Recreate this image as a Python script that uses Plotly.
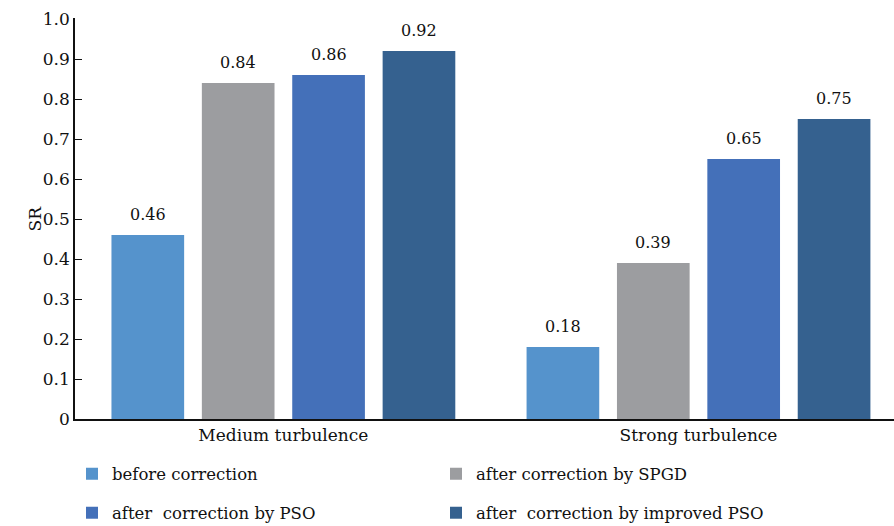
import plotly.graph_objects as go

# SR values per turbulence condition
categories = ["Medium turbulence", "Strong turbulence"]
series_names = [
    "before correction",
    "after correction by SPGD",
    "after  correction by PSO",
    "after  correction by improved PSO",
]
before_correction = [0.46, 0.18]
after_spgd = [0.84, 0.39]
after_pso = [0.86, 0.65]
after_improved_pso = [0.92, 0.75]
y_ticks = [0, 0.1, 0.2, 0.3, 0.4, 0.5, 0.6, 0.7, 0.8, 0.9, 1.0]
y_tick_labels = ["0", "0.1", "0.2", "0.3", "0.4", "0.5", "0.6", "0.7", "0.8", "0.9", "1.0"]

series_values = [before_correction, after_spgd, after_pso, after_improved_pso]
colors = ["#5593cc", "#9c9da0", "#4470b9", "#35618f"]
legend_ids = ["legend", "legend", "legend2", "legend2"]

FONT = "DejaVu Serif"
x_pos = list(range(len(categories)))
bargap = 0.129
slot = (1 - bargap) / len(series_values)

fig = go.Figure()
for i, (name, vals, col, lg) in enumerate(zip(series_names, series_values, colors, legend_ids)):
    fig.add_trace(go.Bar(
        x=x_pos, y=vals, name=name, legend=lg,
        marker=dict(color=col, line=dict(width=0)),
    ))
    # value labels above each bar
    for xc, v in zip(x_pos, vals):
        fig.add_annotation(
            x=xc + (i - (len(series_values) - 1) / 2) * slot, y=v,
            text=f"{v:.2f}", showarrow=False, yanchor="bottom", yshift=9,
            font=dict(family=FONT, size=16, color="#111111"),
        )

# y-axis title
fig.add_annotation(
    xref="paper", yref="paper", x=-29 / 819, y=0.5, text="SR",
    textangle=-90, showarrow=False, xanchor="right", yanchor="middle",
    font=dict(family=FONT, size=17, color="#111111"),
)

fig.update_layout(
    width=894, height=526,
    margin=dict(l=75, r=0, t=18, b=107),
    paper_bgcolor="white", plot_bgcolor="white",
    barmode="group", bargap=bargap, bargroupgap=0.196,
    font=dict(family=FONT, size=16, color="#111111"),
    xaxis=dict(
        range=[-0.502, 1.471], tickvals=x_pos, ticktext=categories,
        showline=True, linecolor="#111111", linewidth=1.5, ticks="",
        showgrid=False, zeroline=False, tickfont=dict(size=17),
    ),
    yaxis=dict(
        range=[0, 1.0025], tickvals=y_ticks, ticktext=y_tick_labels,
        showline=True, linecolor="#111111", linewidth=1.5,
        ticks="inside", ticklen=7, tickcolor="#111111", tickwidth=1.2,
        showgrid=False, zeroline=False, tickfont=dict(size=17),
    ),
    legend=dict(
        orientation="h", xref="container", yref="container",
        x=72 / 894, y=1 - 474 / 526, yanchor="middle", xanchor="left",
        entrywidth=319, entrywidthmode="pixels", font=dict(size=16.5),
        bgcolor="rgba(0,0,0,0)",
    ),
    legend2=dict(
        orientation="h", xref="container", yref="container",
        x=72 / 894, y=1 - 513 / 526, yanchor="middle", xanchor="left",
        entrywidth=319, entrywidthmode="pixels", font=dict(size=16.5),
        bgcolor="rgba(0,0,0,0)",
    ),
    showlegend=True,
)

fig.write_html("out.html")
